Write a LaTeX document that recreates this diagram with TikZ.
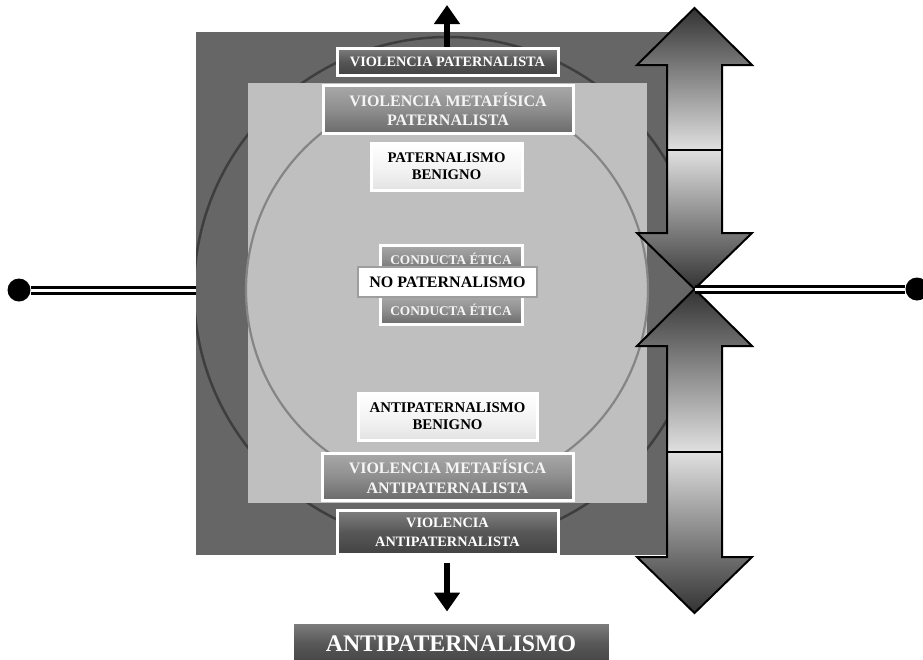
\documentclass[tikz,border=0pt]{standalone}
\usepackage{fontspec}
\setmainfont{Liberation Serif}
\usetikzlibrary{arrows.meta,positioning}

\definecolor{outerbg}{HTML}{666666}
\definecolor{innerbg}{HTML}{BFBFBF}
\definecolor{outerline}{HTML}{3E3E3E}
\definecolor{innerline}{HTML}{858585}
\definecolor{arrdark}{HTML}{333333}
\definecolor{arrlight}{HTML}{E0E0E0}

\begin{document}
\begin{tikzpicture}[x=1pt, y=-1pt,
    frame/.style = {draw=white, line width=3pt, inner sep=0pt, align=center},
    darkbox/.style = {frame, top color=black!50, bottom color=black!74, middle color=black!66, text=white},
    midbox/.style = {frame, top color=black!34, bottom color=black!58, middle color=black!44, text=black!4},
    lightbox/.style = {frame, top color=white, bottom color=black!11, middle color=black!4, text=black},
    dot/.style = {circle, fill=black, minimum size=23pt, inner sep=0pt},
    rail/.style = {draw=black, line width=3pt, double=white, double distance=3pt},
    fat/.style = {line width=6.5pt, -{Triangle[width=25pt,length=19pt]}}]
    \useasboundingbox (0,0) rectangle (923,659);

    % left connector
    \node[dot] (ldot) at (19,290) {};
    \coordinate (lend) at (200,290);
    \draw[rail] (ldot) -- (lend);

    % background square and circles
    \fill[outerbg] (196,32) rectangle (694.5,555);
    \begin{scope}
        \clip (196,32) rectangle (694.5,555);
        \draw[outerline, line width=2.5pt] (448,291) circle [radius=254];
    \end{scope}
    \fill[innerbg] (248,83) rectangle (647,503);
    \draw[innerline, fill=innerbg, line width=2.2pt] (447,290) circle [radius=201];

    % boxes
    \node[darkbox, minimum width=221pt, minimum height=27pt, font=\bfseries\fontsize{14.3}{18}\selectfont] (vp) at (447.5,61.5) {VIOLENCIA PATERNALISTA};
    \node[midbox, minimum width=250pt, minimum height=48pt, font=\bfseries\fontsize{16}{19.5}\selectfont] (vmp) at (448,109) {VIOLENCIA METAFÍSICA\\PATERNALISTA};
    \node[lightbox, minimum width=151pt, minimum height=47pt, font=\bfseries\fontsize{14.7}{17}\selectfont] (pb) at (446.5,166.5) {PATERNALISMO\\BENIGNO};
    \node[midbox, minimum width=142pt, minimum height=28pt, font=\bfseries\fontsize{13.3}{15}\selectfont] (ce1) at (451,259) {CONDUCTA ÉTICA};
    \node[midbox, minimum width=142pt, minimum height=28pt, font=\bfseries\fontsize{13.3}{15}\selectfont] (ce2) at (451,310) {CONDUCTA ÉTICA};
    \node[draw=black!38, fill=white, line width=2pt, minimum width=179pt, minimum height=30pt, inner sep=0pt, font=\bfseries\fontsize{16}{18}\selectfont] (np) at (447.5,282) {NO PATERNALISMO};
    \node[lightbox, minimum width=179pt, minimum height=47pt, font=\bfseries\fontsize{14.8}{16.7}\selectfont] (ab) at (447.5,416.5) {ANTIPATERNALISMO\\BENIGNO};
    \node[midbox, minimum width=251pt, minimum height=47pt, font=\bfseries\fontsize{16}{19.5}\selectfont] (vma) at (447.5,476.5) {VIOLENCIA METAFÍSICA\\ANTIPATERNALISTA};
    \node[darkbox, minimum width=221pt, minimum height=44pt, font=\bfseries\fontsize{14.3}{18.5}\selectfont] (va) at (447.5,532.5) {VIOLENCIA\\ANTIPATERNALISTA};
    \node[darkbox, minimum width=318pt, minimum height=44pt, font=\bfseries\fontsize{23.8}{26}\selectfont] (anti) at (451,644) {ANTIPATERNALISMO};

    % black arrows
    \coordinate (up) at (447,5);
    \draw[fat] (vp.north -| up) -- (up);
    \draw[fat, shorten <=7pt, shorten >=9pt] (va.south -| up) -- (anti.north -| up);

    % double arrows on the right
    \foreach \t/\m/\b in {8/150/289, 289/452/613} {
        \fill[top color=arrdark, bottom color=arrlight] (694.5,\t) -- ({752},{\t+57}) -- ({722},{\t+57}) -- (722,\m) -- (667,\m) -- ({667},{\t+57}) -- ({637},{\t+57}) -- cycle;
        \fill[top color=arrlight, bottom color=arrdark] (667,\m) -- (722,\m) -- ({722},{\b-56}) -- ({752},{\b-56}) -- (694.5,\b) -- ({637},{\b-56}) -- ({667},{\b-56}) -- cycle;
        \draw[line width=2pt, line join=miter] (694.5,\t) -- ({752},{\t+57}) -- ({722},{\t+57}) -- ({722},{\b-56}) -- ({752},{\b-56}) -- (694.5,\b) -- ({637},{\b-56}) -- ({667},{\b-56}) -- ({667},{\t+57}) -- ({637},{\t+57}) -- cycle;
        \draw[line width=2pt] (667,\m) -- (722,\m);
    }

    % right connector
    \coordinate (cross) at (694.5,289);
    \node[dot] (rdot) at (917,289) {};
    \draw[rail] (cross) -- (rdot);
\end{tikzpicture}
\end{document}
